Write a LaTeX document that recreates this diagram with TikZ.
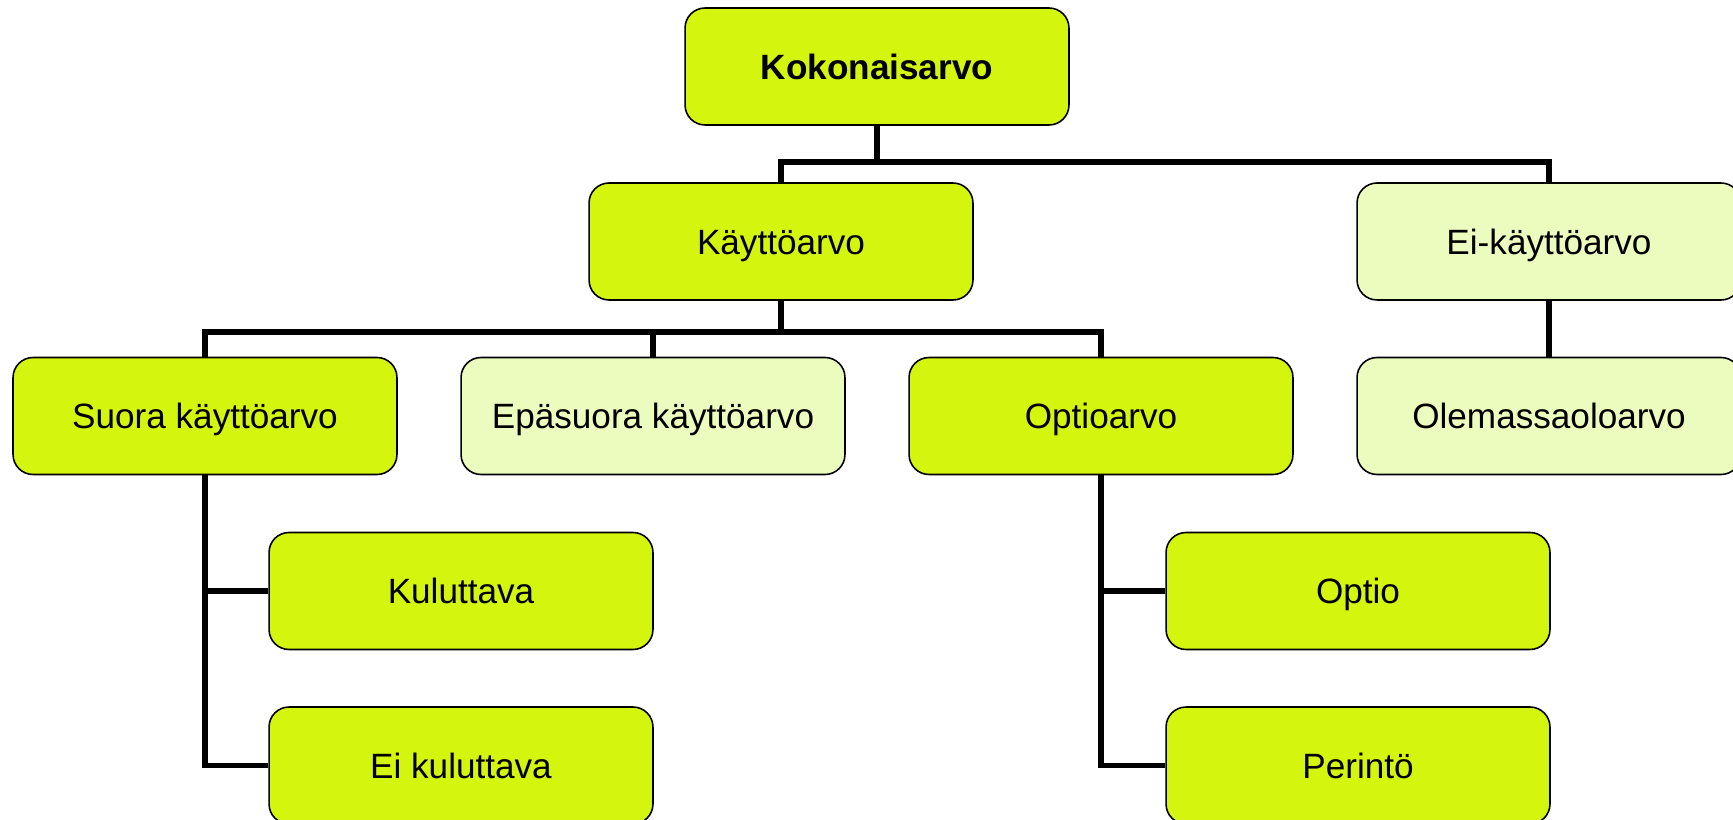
\documentclass[tikz,border=0pt]{standalone}
\usepackage{fontspec}
\setmainfont{Liberation Sans}
\usepackage{tikz}
\usetikzlibrary{positioning}
\definecolor{limegreen}{RGB}{212,245,14}
\definecolor{palegreen}{RGB}{236,252,190}

\begin{document}
\begin{tikzpicture}[x=0.02cm,y=-0.02cm,
  valuebox/.style={draw,line width=0.9pt,rounded corners=0.4cm,minimum width=7.68cm,minimum height=2.34cm,fill=limegreen,text height=14.3pt,text depth=0pt,font=\fontsize{20}{24}\selectfont},
  palebox/.style={valuebox,fill=palegreen},
  tree/.style={line width=3.4pt}]
\useasboundingbox (0,0) rectangle (1733,820);

\node [valuebox,font=\fontsize{20}{24}\selectfont\bfseries] (koko) at (877,66.5) {Kokonaisarvo};
\node [valuebox] (kaytto) at (781,241.5) {Käyttöarvo};
\node [palebox] (eikaytto) at (1549,241.5) {Ei-käyttöarvo};
\node [valuebox] (suora) at (205,416) {Suora käyttöarvo};
\node [palebox] (epasuora) at (653,416) {Epäsuora käyttöarvo};
\node [valuebox] (optioarvo) at (1101,416) {Optioarvo};
\node [palebox] (olemassa) at (1549,416) {Olemassaoloarvo};
\node [valuebox] (kuluttava) at (461,591) {Kuluttava};
\node [valuebox] (eikuluttava) at (461,765.5) {Ei kuluttava};
\node [valuebox] (optio) at (1358,591) {Optio};
\node [valuebox] (perinto) at (1358,765.5) {Perintö};

\coordinate (j1) at (877,162);
\coordinate (j2) at (781,332);

\draw [tree] (koko.south) -- (j1);
\draw [tree] (kaytto.north) |- (j1) -| (eikaytto.north);
\draw [tree] (kaytto.south) -- (j2);
\draw [tree] (suora.north) |- (j2) -| (optioarvo.north);
\draw [tree] (epasuora.north) -- (epasuora.north |- j2);
\draw [tree] (eikaytto.south) -- (olemassa.north);
\draw [tree] (suora.south) |- (kuluttava.west);
\draw [tree] (suora.south) |- (eikuluttava.west);
\draw [tree] (optioarvo.south) |- (optio.west);
\draw [tree] (optioarvo.south) |- (perinto.west);

\end{tikzpicture}
\end{document}
